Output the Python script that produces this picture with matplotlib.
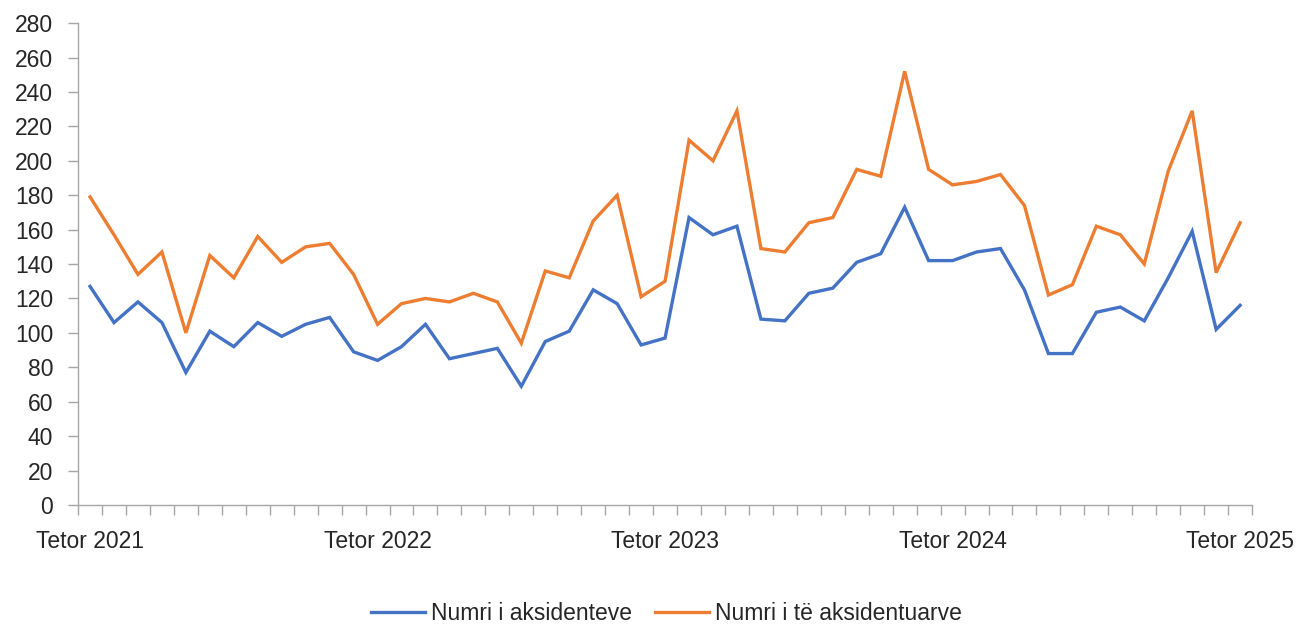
import matplotlib
matplotlib.use("Agg")
import matplotlib.pyplot as plt
import numpy as np
from matplotlib.ticker import FixedLocator, MultipleLocator

months = ["Tetor 2021"] + [""] * 11 + ["Tetor 2022"] + [""] * 11 + ["Tetor 2023"] + [""] * 11 + ["Tetor 2024"] + [""] * 11 + ["Tetor 2025"]

aksidente = [127, 106, 118, 106, 77, 101, 92, 106, 98, 105, 109, 89,
             84, 92, 105, 85, 88, 91, 69, 95, 101, 125, 117, 93,
             97, 167, 157, 162, 108, 107, 123, 126, 141, 146, 173, 142,
             142, 147, 149, 125, 88, 88, 112, 115, 107, 132, 159, 102, 116]

aksidentuar = [179, 157, 134, 147, 100, 145, 132, 156, 141, 150, 152, 134,
               105, 117, 120, 118, 123, 118, 94, 136, 132, 165, 180, 121,
               130, 212, 200, 229, 149, 147, 164, 167, 195, 191, 252, 195,
               186, 188, 192, 174, 122, 128, 162, 157, 140, 194, 229, 135, 164]

series_names = ["Numri i aksidenteve", "Numri i të aksidentuarve"]
colors = ["#4472C4", "#ED7D31"]

plt.rcParams['font.family'] = ['Liberation Sans', 'DejaVu Sans']
FS = 16.5
TXT = '#262626'

fig = plt.figure(figsize=(13.01, 6.24), dpi=100)
ax = fig.add_axes([0.06, 0.1907, 0.9024, 0.7723])

x = np.arange(len(months))
ax.plot(x, aksidente, color=colors[0], lw=2.4, label=series_names[0], solid_joinstyle='miter')
ax.plot(x, aksidentuar, color=colors[1], lw=2.4, label=series_names[1], solid_joinstyle='miter')

ax.set_xlim(-0.5, len(months) - 0.5)
ax.set_ylim(0, 280)
ax.yaxis.set_major_locator(MultipleLocator(20))

label_pos = [i for i, m in enumerate(months) if m]
ax.xaxis.set_major_locator(FixedLocator(label_pos))
ax.set_xticklabels([months[i] for i in label_pos])
ax.xaxis.set_minor_locator(FixedLocator(np.arange(-0.5, len(months), 1.0)))
ax.tick_params(axis='x', which='major', length=0, pad=18, labelsize=FS, labelcolor=TXT)
ax.tick_params(axis='x', which='minor', length=7, width=1, color='#A6A6A6', direction='out')
ax.tick_params(axis='y', which='major', length=7, width=1, color='#A6A6A6', labelsize=FS,
               labelcolor=TXT, pad=11)

for s in ['top', 'right']:
    ax.spines[s].set_visible(False)
for s in ['left', 'bottom']:
    ax.spines[s].set_color('#A6A6A6')
    ax.spines[s].set_linewidth(1)

leg = fig.legend(loc='center', bbox_to_anchor=(0.512, 0.017), ncol=2, frameon=False,
                 fontsize=FS, handlelength=2.36, columnspacing=1.0, handletextpad=0.26,
                 borderpad=0, borderaxespad=0)
for t in leg.get_texts():
    t.set_color(TXT)

fig.savefig("out.png", dpi=100)
